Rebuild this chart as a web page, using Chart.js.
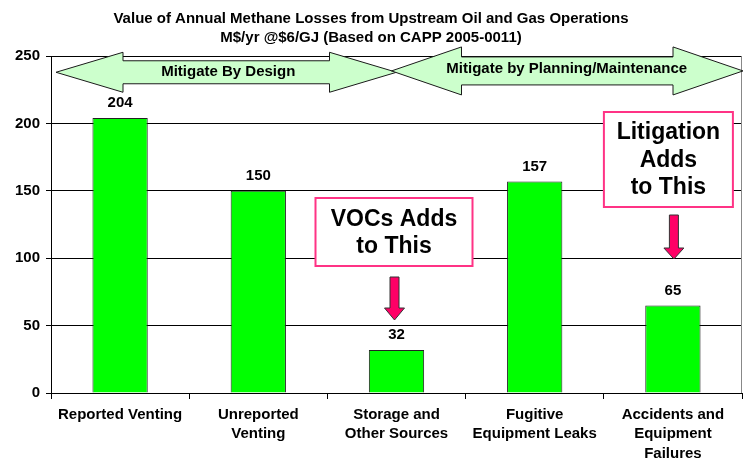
<!DOCTYPE html>
<html>
<head>
<meta charset="utf-8">
<script src="https://cdn.jsdelivr.net/npm/chart.js@4"></script>
<style>
  html, body { margin: 0; padding: 0; background: #fff; }
  #wrap { width: 744px; height: 462px; }
</style>
</head>
<body>
<div id="wrap"><canvas id="chart" width="744" height="462"></canvas></div>
<script>
// chart data
const categories = [
  ["Reported Venting"],
  ["Unreported", "Venting"],
  ["Storage and", "Other Sources"],
  ["Fugitive", "Equipment Leaks"],
  ["Accidents and", "Equipment", "Failures"],
];
const lossValues = [204, 150, 32, 157, 65];
const yTicks = [0, 50, 100, 150, 200, 250];
const titleLines = [
  "Value of Annual Methane Losses from Upstream Oil and Gas Operations",
  "M$/yr @$6/GJ (Based on CAPP 2005-0011)",
];

const FONT = "'Liberation Sans', Arial, Helvetica, sans-serif";

function doubleArrow(ctx, x1, x2, yc, headLen, headHalf, bodyHalf) {
  ctx.beginPath();
  ctx.moveTo(x1, yc);
  ctx.lineTo(x1 + headLen, yc - headHalf);
  ctx.lineTo(x1 + headLen, yc - bodyHalf);
  ctx.lineTo(x2 - headLen, yc - bodyHalf);
  ctx.lineTo(x2 - headLen, yc - headHalf);
  ctx.lineTo(x2, yc);
  ctx.lineTo(x2 - headLen, yc + headHalf);
  ctx.lineTo(x2 - headLen, yc + bodyHalf);
  ctx.lineTo(x1 + headLen, yc + bodyHalf);
  ctx.lineTo(x1 + headLen, yc + headHalf);
  ctx.closePath();
  ctx.fillStyle = "#ccffcc";
  ctx.fill();
  ctx.strokeStyle = "#1a1a1a";
  ctx.lineWidth = 1;
  ctx.stroke();
}

function downArrow(ctx, cx, top, headStart, tip) {
  ctx.beginPath();
  ctx.moveTo(cx - 4.5, top);
  ctx.lineTo(cx + 4.5, top);
  ctx.lineTo(cx + 4.5, headStart);
  ctx.lineTo(cx + 10, headStart);
  ctx.lineTo(cx, tip);
  ctx.lineTo(cx - 10, headStart);
  ctx.lineTo(cx - 4.5, headStart);
  ctx.closePath();
  ctx.fillStyle = "#ff0066";
  ctx.fill();
  ctx.strokeStyle = "#333";
  ctx.lineWidth = 1;
  ctx.stroke();
}

function noteBox(ctx, x1, y1, x2, y2, lines, firstY, step) {
  ctx.fillStyle = "#fff";
  ctx.fillRect(x1, y1, x2 - x1, y2 - y1);
  ctx.strokeStyle = "#ff3385";
  ctx.lineWidth = 2;
  ctx.strokeRect(x1, y1, x2 - x1, y2 - y1);
  ctx.fillStyle = "#000";
  ctx.font = "bold 23px " + FONT;
  ctx.textAlign = "center";
  ctx.textBaseline = "middle";
  lines.forEach((t, i) => ctx.fillText(t, (x1 + x2) / 2, firstY + i * step));
}

const extras = {
  id: "extras",
  afterDatasetsDraw(chart) {
    const { ctx, chartArea: a, scales: { x, y } } = chart;
    ctx.save();

    // right frame line
    ctx.strokeStyle = "#888";
    ctx.lineWidth = 1;
    ctx.beginPath();
    ctx.moveTo(a.right - 0.5, a.top);
    ctx.lineTo(a.right - 0.5, a.bottom);
    ctx.stroke();

    // value labels
    ctx.fillStyle = "#000";
    ctx.font = "bold 15px " + FONT;
    ctx.textAlign = "center";
    ctx.textBaseline = "middle";
    chart.getDatasetMeta(0).data.forEach((bar, i) => {
      ctx.fillText(String(lossValues[i]), bar.x, bar.y - 15);
    });

    // range arrows
    const mid = x.getPixelForValue(2);
    doubleArrow(ctx, a.left + 5, mid, y.getPixelForValue(238), 67, 20, 11.5);
    doubleArrow(ctx, mid - 5, a.right + 1, y.getPixelForValue(239), 70, 24, 14);
    ctx.fillStyle = "#000";
    ctx.font = "bold 15px " + FONT;
    ctx.textAlign = "center";
    ctx.textBaseline = "middle";
    ctx.fillText("Mitigate By Design", (a.left + 5 + mid) / 2 + 2, y.getPixelForValue(238));
    ctx.fillText("Mitigate by Planning/Maintenance", (mid - 5 + a.right) / 2, y.getPixelForValue(240.5));

    // note boxes and pointers
    const c2 = x.getPixelForValue(2);
    noteBox(ctx, c2 - 81, 198, c2 + 76, 266, ["VOCs Adds", "to This"], 220, 27);
    downArrow(ctx, c2 - 2, 277, 308, 320);
    const c4 = x.getPixelForValue(4);
    noteBox(ctx, c4 - 69, 112, c4 + 60, 207, ["Litigation", "Adds", "to This"], 133, 27.5);
    downArrow(ctx, c4 + 1, 215, 248, 259);

    ctx.restore();
  },
};

new Chart(document.getElementById("chart"), {
  type: "bar",
  data: {
    labels: categories,
    datasets: [{
      data: lossValues,
      backgroundColor: "#00ff00",
      borderColor: "#222",
      borderWidth: 1,
      borderSkipped: "bottom",
      barPercentage: 0.4,
      categoryPercentage: 1,
    }],
  },
  options: {
    responsive: false,
    animation: false,
    layout: { padding: { top: 0, right: 2, left: 0, bottom: 0 } },
    plugins: {
      legend: { display: false },
      tooltip: { enabled: false },
      title: {
        display: true,
        text: titleLines,
        color: "#000",
        font: { family: FONT, size: 15, weight: "bold", lineHeight: 1.27 },
        padding: { top: 9, bottom: 9 },
      },
    },
    scales: {
      x: {
        grid: {
          drawOnChartArea: false,
          drawTicks: true,
          tickLength: 6,
          color: "#000",
        },
        border: { color: "#000", width: 1 },
        ticks: {
          color: "#000",
          padding: 6,
          maxRotation: 0,
          autoSkip: false,
          font: { family: FONT, size: 15, weight: "bold", lineHeight: 1.3 },
        },
        afterFit(scale) { scale.height = 69; },
      },
      y: {
        min: 0,
        max: 250,
        afterBuildTicks(scale) { scale.ticks = yTicks.map(v => ({ value: v })); },
        grid: { color: "#000", lineWidth: 1, tickLength: 5 },
        border: { color: "#000", width: 1 },
        ticks: {
          color: "#000",
          padding: 6,
          font: { family: FONT, size: 15, weight: "bold" },
        },
        afterFit(scale) { scale.width = 51; },
      },
    },
  },
  plugins: [extras],
});
</script>
</body>
</html>
